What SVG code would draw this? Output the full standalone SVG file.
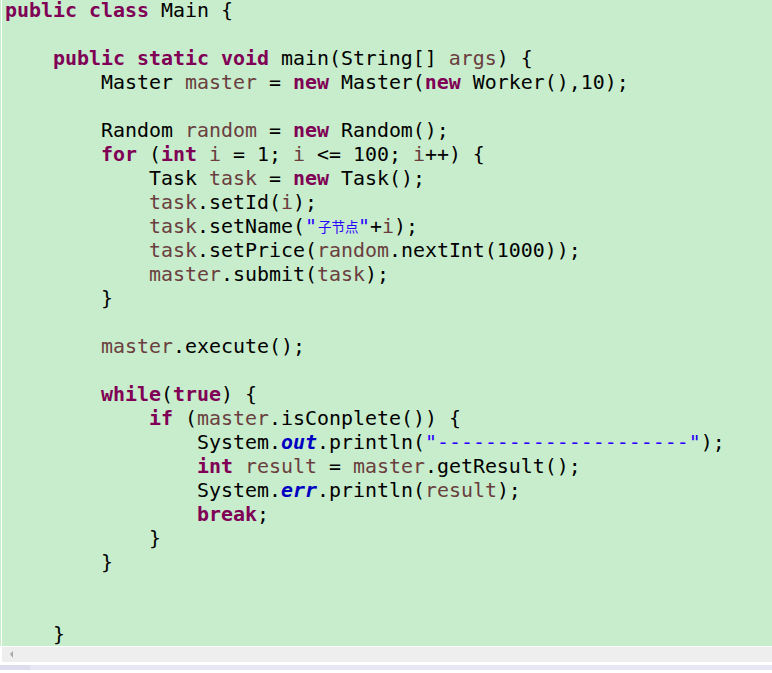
<svg xmlns="http://www.w3.org/2000/svg" width="772" height="673" viewBox="0 0 772 673">
<style>
text{font-family:"DejaVu Sans Mono","Liberation Mono",monospace;font-size:19.93px;fill:#000000;white-space:pre}
.k{fill:#7F0055;font-weight:bold}
.v{fill:#6A3E3E}
.s{fill:#2A00FF}
.f{fill:#0000C0;font-style:italic;font-weight:bold}
.cjk{font-family:"Noto Sans CJK SC","Noto Sans",sans-serif;font-size:13.5px;fill:#2A00FF}
</style>
<rect x="0" y="0" width="772" height="673" fill="#ffffff"/>
<rect x="2" y="0" width="770" height="646" fill="#C7EDCC"/>
<rect x="0" y="0" width="1" height="646" fill="#C7EDCC"/>
<rect x="2" y="647" width="770" height="15" fill="#EEEEEE"/>
<path d="M10 654 L13 651 L13 658 Z" fill="#A8A8A8"/>
<rect x="0" y="665" width="772" height="5" fill="#E6E6F5"/>
<rect x="0" y="665" width="30" height="5" fill="#DCDCEC"/>

<g id="code">
<text x="5" y="17"><tspan class="k">public</tspan> <tspan class="k">class</tspan> Main {</text>
<text x="53" y="65"><tspan class="k">public</tspan> <tspan class="k">static</tspan> <tspan class="k">void</tspan> main(String[] <tspan class="v">args</tspan>) {</text>
<text x="101" y="89">Master <tspan class="v">master</tspan> = <tspan class="k">new</tspan> Master(<tspan class="k">new</tspan> Worker(),10);</text>
<text x="101" y="137">Random <tspan class="v">random</tspan> = <tspan class="k">new</tspan> Random();</text>
<text x="101" y="161"><tspan class="k">for</tspan> (<tspan class="k">int</tspan> <tspan class="v">i</tspan> = 1; <tspan class="v">i</tspan> &lt;= 100; <tspan class="v">i</tspan>++) {</text>
<text x="149" y="185">Task <tspan class="v">task</tspan> = <tspan class="k">new</tspan> Task();</text>
<text x="149" y="209"><tspan class="v">task</tspan>.setId(<tspan class="v">i</tspan>);</text>
<text x="149" y="233"><tspan class="v">task</tspan>.setName(<tspan class="s">"</tspan></text>
<text x="318" y="232" class="cjk">子节点</text>
<text x="358" y="233"><tspan class="s">"</tspan>+<tspan class="v">i</tspan>);</text>
<text x="149" y="257"><tspan class="v">task</tspan>.setPrice(<tspan class="v">random</tspan>.nextInt(1000));</text>
<text x="149" y="281"><tspan class="v">master</tspan>.submit(<tspan class="v">task</tspan>);</text>
<text x="101" y="305">}</text>
<text x="101" y="353"><tspan class="v">master</tspan>.execute();</text>
<text x="101" y="401"><tspan class="k">while</tspan>(<tspan class="k">true</tspan>) {</text>
<text x="149" y="425"><tspan class="k">if</tspan> (<tspan class="v">master</tspan>.isConplete()) {</text>
<text x="197" y="449">System.<tspan class="f">out</tspan>.println(<tspan class="s">"---------------------"</tspan>);</text>
<text x="197" y="473"><tspan class="k">int</tspan> <tspan class="v">result</tspan> = <tspan class="v">master</tspan>.getResult();</text>
<text x="197" y="497">System.<tspan class="f">err</tspan>.println(<tspan class="v">result</tspan>);</text>
<text x="197" y="521"><tspan class="k">break</tspan>;</text>
<text x="149" y="545">}</text>
<text x="101" y="569">}</text>
<text x="53" y="641">}</text>
</g>
</svg>
